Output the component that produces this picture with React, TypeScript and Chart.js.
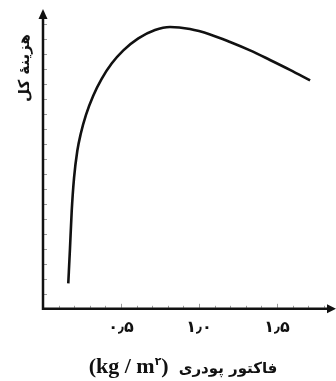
import React, { useEffect, useRef } from "react";
import { Chart, registerables } from "chart.js";

Chart.register(...registerables);

// powder factor (kg/m^2) and total cost (arbitrary units)
const powderFactor = [0.162, 0.173, 0.184, 0.199, 0.220, 0.242, 0.276, 0.322, 0.376, 0.440, 0.515, 0.611, 0.718, 0.814, 0.942, 1.071, 1.199, 1.327, 1.455, 1.583, 1.712];
const totalCost = [8.5, 20.2, 32.6, 43.7, 52.7, 58.4, 64.8, 71.1, 76.7, 81.8, 86.2, 90.2, 93.0, 94.0, 93.3, 91.5, 89.0, 86.2, 83.0, 79.7, 76.2];

const xTickValues = [0.5, 1.0, 1.5];
const xTickLabels = ["۰٫۵", "۱٫۰", "۱٫۵"];
const xMinorStep = 0.1;
const yMinorStep = 5;

const yTitle = "هزینهٔ کل";
const xTitleFa = "فاکتور پودری";
const xTitleUnit = "(kg / m";
const xTitleSup = "۲";

const axesPlugin = {
  id: "arrowAxes",
  afterDraw(chart: any) {
    const { ctx, chartArea, scales } = chart;
    const { left, right, top, bottom } = chartArea;
    const xs = scales.x;
    const ys = scales.y;
    ctx.save();
    // minor ticks
    ctx.strokeStyle = "#9a9a9a";
    ctx.lineWidth = 1;
    for (let v = xMinorStep; v < xs.max - 0.05; v += xMinorStep) {
      const px = Math.round(xs.getPixelForValue(v)) + 0.5;
      const major = xTickValues.some((t) => Math.abs(t - v) < 1e-6);
      ctx.beginPath();
      ctx.moveTo(px, bottom - 1);
      ctx.lineTo(px, bottom - (major ? 5 : 3));
      ctx.stroke();
    }
    for (let v = yMinorStep; v < ys.max - 4; v += yMinorStep) {
      const py = Math.round(ys.getPixelForValue(v)) + 0.5;
      ctx.beginPath();
      ctx.moveTo(left + 1, py);
      ctx.lineTo(left + 4, py);
      ctx.stroke();
    }
    // axis lines
    ctx.strokeStyle = "#111";
    ctx.fillStyle = "#111";
    ctx.lineWidth = 2.5;
    ctx.beginPath();
    ctx.moveTo(left, top + 8);
    ctx.lineTo(left, bottom);
    ctx.lineTo(right - 6, bottom);
    ctx.stroke();
    // arrowheads
    ctx.beginPath();
    ctx.moveTo(right, bottom);
    ctx.lineTo(right - 9, bottom - 4.5);
    ctx.lineTo(right - 9, bottom + 4.5);
    ctx.closePath();
    ctx.fill();
    ctx.beginPath();
    ctx.moveTo(left, top);
    ctx.lineTo(left - 4.5, top + 10);
    ctx.lineTo(left + 4.5, top + 10);
    ctx.closePath();
    ctx.fill();
    ctx.restore();
  },
};

export default function App() {
  const canvasRef = useRef<HTMLCanvasElement | null>(null);

  useEffect(() => {
    if (!canvasRef.current) return;
    const chart = new Chart(canvasRef.current, {
      type: "line",
      data: {
        datasets: [
          {
            data: powderFactor.map((x, i) => ({ x, y: totalCost[i] })),
            borderColor: "#111",
            borderWidth: 2.6,
            pointRadius: 0,
            cubicInterpolationMode: "monotone",
            fill: false,
          },
        ],
      },
      options: {
        animation: false,
        responsive: false,
        events: [],
        layout: { padding: { left: 43, top: 9, right: 0, bottom: 35 } },
        plugins: { legend: { display: false }, tooltip: { enabled: false } },
        scales: {
          x: {
            type: "linear",
            min: 0,
            max: 1.878,
            border: { display: false },
            grid: { display: false, drawTicks: false },
            afterBuildTicks: (scale: any) => {
              scale.ticks = xTickValues.map((v) => ({ value: v }));
            },
            ticks: {
              autoSkip: false,
              maxRotation: 0,
              padding: 9,
              color: "#111",
              font: { family: "DejaVu Sans", size: 16, weight: "bold" },
              callback: (v: any) => {
                const i = xTickValues.findIndex((t) => Math.abs(t - Number(v)) < 1e-6);
                return i >= 0 ? xTickLabels[i] : "";
              },
            },
          },
          y: {
            type: "linear",
            min: 0,
            max: 100,
            display: false,
          },
        },
      },
      plugins: [axesPlugin],
    });
    return () => chart.destroy();
  }, []);

  return (
    <div style={{ position: "absolute", left: 0, top: 0, width: 336, height: 381, background: "#fff", overflow: "hidden" }}>
      <canvas ref={canvasRef} width={336} height={381} style={{ position: "absolute", left: 0, top: 0 }} />
      <div
        dir="rtl"
        style={{
          position: "absolute",
          left: 24,
          top: 68,
          transform: "translate(-50%, -50%) rotate(-90deg)",
          whiteSpace: "nowrap",
          fontFamily: "DejaVu Sans",
          fontWeight: "bold",
          fontSize: 15,
          color: "#111",
        }}
      >
        {yTitle}
      </div>
      <div
        style={{
          position: "absolute",
          left: 183,
          top: 366,
          transform: "translate(-50%, -50%)",
          whiteSpace: "nowrap",
          display: "flex",
          alignItems: "baseline",
          color: "#111",
        }}
      >
        <span dir="ltr" style={{ fontFamily: "Liberation Serif", fontWeight: "bold", fontSize: 22 }}>
          {xTitleUnit}
          <sup style={{ fontFamily: "DejaVu Sans", fontSize: 11 }}>{xTitleSup}</sup>)
        </span>
        <span dir="rtl" style={{ fontFamily: "DejaVu Sans", fontWeight: "bold", fontSize: 15, marginLeft: 10 }}>
          {xTitleFa}
        </span>
      </div>
    </div>
  );
}
